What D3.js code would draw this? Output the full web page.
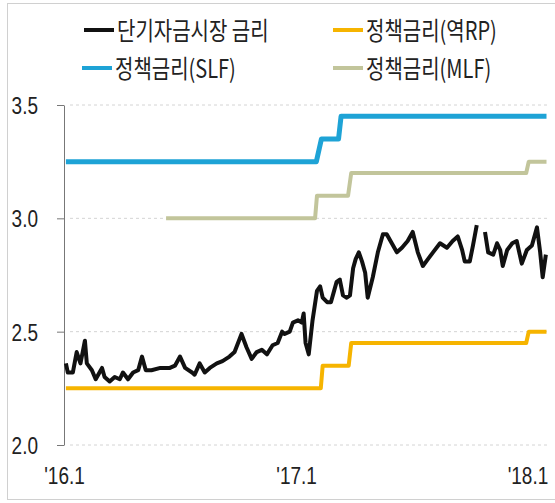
<!DOCTYPE html>
<html>
<head>
<meta charset="utf-8">
<script src="https://cdn.jsdelivr.net/npm/d3@7"></script>
<style>
  body { margin: 0; background: #fff; }
  svg { display: block; }
</style>
</head>
<body>
<svg id="chart" width="555" height="503"></svg>
<script>
// short-term money market rate
var marketDates = ["2016-01-04","2016-01-07","2016-01-15","2016-01-21","2016-01-27","2016-02-03","2016-02-06","2016-02-14","2016-02-20","2016-03-01",
  "2016-03-05","2016-03-13","2016-03-21","2016-03-29","2016-04-03","2016-04-11","2016-04-19","2016-04-27","2016-05-03","2016-05-09",
  "2016-05-18","2016-06-01","2016-06-16","2016-06-24","2016-07-02","2016-07-10","2016-07-21","2016-07-25","2016-08-02","2016-08-10",
  "2016-08-18","2016-08-29","2016-09-07","2016-09-18","2016-09-26","2016-10-07","2016-10-15","2016-10-23","2016-10-31","2016-11-08",
  "2016-11-16","2016-11-25","2016-12-03","2016-12-10","2016-12-14","2016-12-22","2016-12-27","2017-01-04","2017-01-10","2017-01-13",
  "2017-01-16","2017-01-21","2017-01-27","2017-02-03","2017-02-08","2017-02-12","2017-02-19","2017-02-25","2017-03-02","2017-03-06",
  "2017-03-11","2017-03-16","2017-03-22","2017-03-27","2017-04-01","2017-04-05","2017-04-10","2017-04-15","2017-04-20","2017-04-24",
  "2017-05-02","2017-05-10","2017-05-18","2017-05-24","2017-06-01","2017-06-09","2017-06-17","2017-06-26","2017-07-04","2017-07-12",
  "2017-07-20","2017-07-28","2017-08-05","2017-08-16","2017-08-27","2017-09-05","2017-09-13","2017-09-20","2017-09-24","2017-10-02",
  "2017-10-07","2017-10-13","2017-10-20","2017-10-26","2017-10-31","2017-11-08","2017-11-14","2017-11-19","2017-11-23","2017-11-30",
  "2017-12-08","2017-12-15","2017-12-23","2017-12-31","2018-01-08","2018-01-16","2018-01-21","2018-01-25","2018-01-30"];
var marketValues = [2.36,2.32,2.32,2.41,2.36,2.46,2.36,2.33,2.29,2.34,
  2.30,2.28,2.30,2.29,2.32,2.29,2.32,2.33,2.39,2.33,
  2.33,2.34,2.34,2.35,2.39,2.34,2.32,2.31,2.36,2.32,
  2.34,2.36,2.37,2.39,2.41,2.49,2.43,2.38,2.41,2.42,
  2.40,2.44,2.45,2.50,2.49,2.50,2.54,2.55,2.54,2.58,
  2.45,2.40,2.55,2.68,2.70,2.65,2.63,2.63,2.68,2.72,
  2.73,2.66,2.65,2.66,2.78,2.82,2.85,2.81,2.76,2.65,
  2.74,2.85,2.93,2.93,2.89,2.85,2.87,2.90,2.94,2.85,
  2.79,2.82,2.85,2.89,2.87,2.90,2.92,2.86,2.81,2.81,
  2.88,2.97,null,2.94,2.85,2.84,2.89,2.86,2.79,2.86,
  2.89,2.90,2.80,2.86,2.88,2.96,2.85,2.74,2.84];

// policy rates
var rpDates = ["2016-01-04","2017-02-09","2017-02-12","2017-03-25","2017-03-29","2017-12-30","2018-01-03","2018-01-31"];
var rpValues = [2.25,2.25,2.35,2.35,2.45,2.45,2.50,2.50];

var slfDates = ["2016-01-04","2017-02-02","2017-02-10","2017-03-09","2017-03-13","2018-01-31"];
var slfValues = [3.25,3.25,3.35,3.35,3.45,3.45];

var mlfDates = ["2016-06-10","2017-01-31","2017-02-03","2017-03-24","2017-03-29","2017-12-30","2018-01-03","2018-01-31"];
var mlfValues = [3.00,3.00,3.10,3.10,3.20,3.20,3.25,3.25];

var yTicks = [2.0, 2.5, 3.0, 3.5];
var xTicks = ["2016-01-01","2017-01-01","2018-01-01"];

var legendItems = [
  {name: "단기자금시장 금리", color: "#111111"},
  {name: "정책금리(역RP)", color: "#f6b400"},
  {name: "정책금리(SLF)", color: "#1ea3d6"},
  {name: "정책금리(MLF)", color: "#c2c59b"}
];

var parse = d3.timeParse("%Y-%m-%d");
var stretch = 1.3; // text in the picture is drawn tall and narrow

function pairs(dates, values) {
  return dates.map(function (d, i) { return {date: parse(d), value: values[i]}; });
}

var svg = d3.select("#chart");

// outer frame
svg.append("rect")
   .attr("x", 7.5).attr("y", 3.5)
   .attr("width", 560).attr("height", 496)
   .attr("fill", "none")
   .attr("stroke", "#d0d0d0");

var xScale = d3.scaleTime()
               .domain([parse("2016-01-01"), parse("2018-01-31")])
               .range([64, 546.5]);
var yScale = d3.scaleLinear()
               .domain([2.0, 3.5])
               .range([445, 105]);

// dotted gridlines
svg.append("g").selectAll("line")
   .data(yTicks)
   .enter().append("line")
   .attr("x1", 70).attr("x2", 547)
   .attr("y1", d => yScale(d)).attr("y2", d => yScale(d))
   .attr("stroke", "#d4d4d4")
   .attr("stroke-dasharray", "3,3");

// y axis
var yAxis = svg.append("g")
   .attr("transform", "translate(64,0)")
   .call(d3.axisLeft(yScale).tickValues(yTicks).tickFormat(d3.format(".1f"))
           .tickSize(7).tickSizeOuter(0).tickPadding(19));
yAxis.select(".domain").attr("stroke", "#777");
yAxis.selectAll(".tick line").attr("stroke", "#777");
yAxis.selectAll("text")
     .attr("font-family", "Liberation Sans, Arial, sans-serif")
     .attr("font-size", 19)
     .attr("fill", "#222")
     .attr("dy", null)
     .attr("y", 0)
     .attr("transform", "scale(1," + stretch + ")")
     .attr("dominant-baseline", "central");

// x axis labels
var fmtYear = d3.timeFormat("%y");
var xAxis = svg.append("g")
   .attr("transform", "translate(0,445)")
   .call(d3.axisBottom(xScale).tickValues(xTicks.map(parse))
           .tickSize(0)
           .tickFormat(d => "'" + fmtYear(d) + "." + (d.getMonth() + 1)));
xAxis.select(".domain").remove();
xAxis.selectAll("text")
     .attr("font-family", "Liberation Sans, Arial, sans-serif")
     .attr("font-size", 19)
     .attr("fill", "#222")
     .attr("dy", null)
     .attr("y", 31 / stretch)
     .attr("transform", "scale(1," + stretch + ")")
     .attr("dominant-baseline", "central");

var line = d3.line()
   .defined(d => d.value !== null)
   .x(d => xScale(d.date))
   .y(d => yScale(d.value));

function drawSeries(data, color, width) {
  svg.append("path")
     .datum(data)
     .attr("fill", "none")
     .attr("stroke", color)
     .attr("stroke-width", width)
     .attr("stroke-linejoin", "round")
     .attr("d", line);
}

drawSeries(pairs(mlfDates, mlfValues), legendItems[3].color, 4);
drawSeries(pairs(rpDates, rpValues), legendItems[1].color, 4);
drawSeries(pairs(slfDates, slfValues), legendItems[2].color, 5);
drawSeries(pairs(marketDates, marketValues), legendItems[0].color, 4);

// legend
var legendPos = [[84, 30], [333, 30], [82, 68], [333, 68]];
var legend = svg.append("g").selectAll("g")
   .data(legendItems)
   .enter().append("g")
   .attr("transform", (d, i) => "translate(" + legendPos[i][0] + "," + legendPos[i][1] + ")");
legend.append("line")
   .attr("x1", 0).attr("x2", 30)
   .attr("stroke", d => d.color)
   .attr("stroke-width", 4);
legend.append("text")
   .attr("x", 33)
   .attr("transform", "scale(1,1.25)")
   .attr("dominant-baseline", "central")
   .attr("font-family", "Noto Sans CJK KR, sans-serif")
   .attr("font-size", 20)
   .attr("fill", "#222")
   .text(d => d.name);
</script>
</body>
</html>
